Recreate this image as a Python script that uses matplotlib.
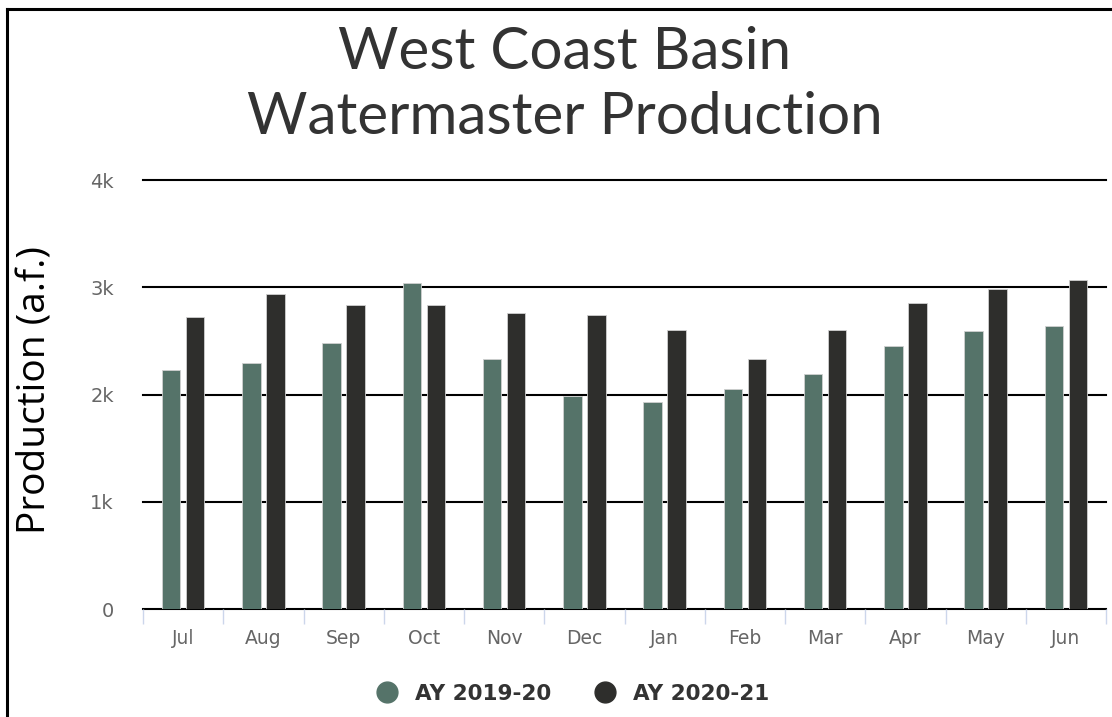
import numpy as np
import matplotlib
matplotlib.use("Agg")
import matplotlib.pyplot as plt
from matplotlib.lines import Line2D

months = ["Jul", "Aug", "Sep", "Oct", "Nov", "Dec", "Jan", "Feb", "Mar", "Apr", "May", "Jun"]
ay_2019_20 = [2230, 2293, 2485, 3038, 2330, 1988, 1929, 2053, 2190, 2451, 2591, 2640]
ay_2020_21 = [2727, 2936, 2833, 2833, 2761, 2746, 2606, 2330, 2606, 2852, 2985, 3072]
series_names = ["AY 2019-20", "AY 2020-21"]
colors = ["#557369", "#2e2e2c"]
yticks = [0, 1000, 2000, 3000, 4000]
ytick_labels = ["0", "1k", "2k", "3k", "4k"]

W, H = 1112, 717
fig = plt.figure(figsize=(W / 100, H / 100), dpi=100)
ax = fig.add_axes([143 / W, 1 - 609.3 / H, (1106 - 143) / W, (609.3 - 180) / H])

x = np.arange(len(months))
ax.bar(x - 0.15, ay_2019_20, width=0.23, color=colors[0], edgecolor="#d0d0d0", linewidth=0.6, zorder=3)
ax.bar(x + 0.15, ay_2020_21, width=0.23, color=colors[1], edgecolor="#d0d0d0", linewidth=0.6, zorder=3)

ax.set_xlim(-0.5, len(months) - 0.5)
ax.set_ylim(0, 4000)
ax.set_yticks(yticks)
ax.set_yticklabels(ytick_labels)
ax.set_xticks(x)
ax.set_xticklabels(months)
ax.set_xticks(np.arange(-0.5, len(months)), minor=True)

for s in ax.spines.values():
    s.set_visible(False)
# horizontal grid lines drawn unclipped so the top one keeps its full width
for yv in yticks:
    ax.axhline(yv, color="black", linewidth=1.5, zorder=1, clip_on=False)
ax.tick_params(axis="y", length=0, pad=21, labelsize=14, labelcolor="#666666")
ax.tick_params(axis="x", which="major", length=0, pad=14, labelsize=13.5, labelcolor="#666666")
ax.tick_params(axis="x", which="minor", length=11, width=1, color="#ccd6eb")

fig.text(565 / W, 1 - 85 / H, "West Coast Basin\nWatermaster Production", ha="center", va="center",
         fontsize=42, color="#333333", linespacing=1.3, family="Lato")
fig.text(36 / W, 1 - 390 / H, "Production (a.f.)", rotation=90, ha="center", va="center",
         fontsize=28, color="black", family="Open Sans")

handles = [Line2D([], [], marker="o", linestyle="", markersize=15, color=c) for c in colors]
fig.legend(handles, series_names, loc="center", bbox_to_anchor=(567 / W, 1 - 694 / H), ncol=2,
           frameon=False, prop={"size": 15.5, "weight": "bold"}, labelcolor="#333333",
           handletextpad=0.3, columnspacing=1.5)

# frame on top and left edges
fig.add_artist(Line2D([7 / W, 7 / W], [0, 1 - 9 / H], color="black", linewidth=2.2))
fig.add_artist(Line2D([7 / W, 1], [1 - 9 / H, 1 - 9 / H], color="black", linewidth=2.2))

fig.savefig("out.png", dpi=100)
